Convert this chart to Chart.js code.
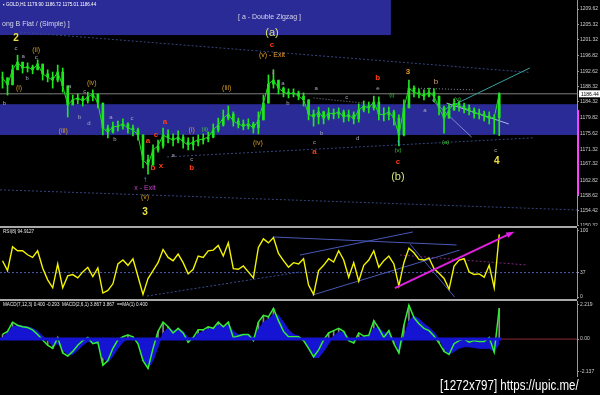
<!DOCTYPE html>
<html>
<head>
<meta charset="utf-8">
<script src="https://cdn.jsdelivr.net/npm/chart.js@4.4.1/dist/chart.umd.min.js"></script>
<style>
  html, body { margin: 0; padding: 0; background: #000; }
  #wrap { position: relative; width: 600px; height: 395px; background: #000; overflow: hidden;
          font-family: "Liberation Sans", Arial, sans-serif; }
  canvas { position: absolute; left: 0; }
  .sep { position: absolute; left: 0; width: 577px; height: 2px; background: #a9a9a9; }
  .txt { position: absolute; white-space: nowrap; line-height: 1; }
</style>
</head>
<body>
<div id="wrap">
  <canvas id="mainChart" width="600" height="226" style="top:0"></canvas>
  <div class="sep" style="top:226px"></div>
  <canvas id="rsiChart" width="600" height="71" style="top:228px"></canvas>
  <div class="sep" style="top:299px"></div>
  <canvas id="macdChart" width="600" height="76" style="top:301px"></canvas>

  <div class="txt" style="left:3px;top:3px;font-size:4.6px;color:#fff">&#9642; GOLD,H1 1179.90 1186.72 1175.01 1186.44</div>
  <div class="txt" style="left:238px;top:13px;font-size:7px;color:#d6d6e6">[ a - Double Zigzag ]</div>
  <div class="txt" style="left:2px;top:20px;font-size:7px;color:#d6d6e6">ong B Flat / (Simple) ]</div>
  <div class="txt" style="left:3px;top:230px;font-size:4.6px;color:#e8e8e8">RSI(8) 94.9127</div>
  <div class="txt" style="left:3px;top:303px;font-size:4.6px;color:#e8e8e8">MACD(7,12,3) 0.400 -0.293&nbsp;&nbsp;MACD(2,6,1) 3.867 3.867&nbsp;&nbsp;==MA(1) 0.400</div>
  <div class="txt" style="left:440px;top:377px;font-size:15px;color:#fff;transform:scaleX(0.77);transform-origin:left top">[1272x797] https://upic.me/</div>
</div>

<script>
// GOLD H1, one entry per bar
let closes = [1190.8,1188.9,1193.0,1195.1,1193.5,1193.8,1193.0,1194.6,1191.9,1191.0,
    1190.2,1192.4,1188.6,1183.4,1184.8,1185.3,1184.5,1185.6,1186.4,1183.9,
    1177.1,1176.0,1177.4,1177.6,1178.2,1177.1,1176.6,1175.2,1168.4,1167.0,
    1171.1,1172.2,1175.2,1174.4,1173.8,1174.6,1173.3,1172.5,1173.3,1173.8,
    1174.1,1174.6,1176.6,1177.9,1179.8,1180.9,1179.0,1178.2,1177.6,1178.2,
    1177.1,1179.3,1183.9,1189.1,1190.2,1188.0,1186.9,1186.4,1186.7,1185.8,
    1184.8,1180.9,1180.1,1181.5,1179.8,1181.2,1180.9,1181.5,1180.1,1180.7,
    1179.6,1182.0,1183.1,1182.6,1184.2,1180.9,1180.7,1181.5,1179.8,1175.2,
    1182.6,1188.0,1186.9,1186.4,1185.8,1186.9,1185.8,1182.6,1179.8,1182.0,
    1183.9,1183.1,1182.6,1182.0,1181.2,1180.9,1180.4,1179.8,1179.9,1186.44];
let highs = [1192.4,1190.8,1194.3,1197.0,1195.1,1194.9,1194.3,1195.7,1194.0,1193.0,
    1192.4,1194.3,1193.5,1188.6,1186.1,1186.4,1185.8,1186.9,1187.5,1185.8,
    1183.9,1177.9,1178.7,1179.0,1179.6,1178.5,1177.9,1177.1,1175.2,1169.7,
    1172.5,1173.8,1177.1,1176.6,1175.5,1176.3,1175.2,1174.4,1174.6,1175.2,
    1175.5,1176.0,1178.2,1179.8,1182.0,1183.1,1181.5,1179.8,1179.3,1179.6,
    1178.7,1181.5,1186.1,1191.6,1193.0,1189.7,1188.3,1187.8,1187.8,1187.2,
    1186.7,1184.8,1182.0,1182.8,1181.7,1182.6,1182.3,1182.6,1182.0,1182.0,
    1181.5,1183.7,1184.5,1184.2,1185.8,1185.6,1182.6,1182.8,1182.0,1180.7,
    1184.8,1190.2,1188.6,1187.8,1187.5,1188.0,1187.8,1185.8,1183.1,1183.7,
    1185.0,1184.5,1183.9,1183.4,1182.6,1182.3,1181.7,1181.5,1180.7,1186.72];
let lows = [1188.0,1186.1,1188.9,1193.0,1192.1,1192.4,1191.9,1193.0,1190.2,1189.7,
    1188.0,1189.7,1186.9,1180.1,1183.4,1183.7,1183.1,1183.9,1184.5,1182.6,
    1175.2,1174.4,1175.7,1176.3,1176.8,1175.7,1174.9,1173.8,1166.2,1164.5,
    1166.9,1170.5,1171.6,1173.0,1172.2,1173.0,1171.6,1171.1,1171.1,1172.2,
    1172.7,1173.3,1174.4,1176.0,1177.6,1179.3,1177.6,1177.1,1176.6,1176.8,
    1175.7,1175.5,1179.3,1183.9,1188.0,1186.4,1185.6,1185.3,1185.6,1184.8,
    1183.1,1179.3,1177.6,1178.2,1178.2,1179.3,1179.6,1179.8,1178.7,1179.0,
    1178.2,1178.7,1181.5,1181.2,1182.0,1179.3,1179.0,1179.3,1177.9,1172.2,
    1174.9,1182.6,1185.6,1185.3,1184.8,1185.6,1184.2,1180.7,1175.7,1179.8,
    1182.0,1181.7,1181.2,1180.7,1179.8,1179.6,1179.0,1178.2,1175.5,1175.01];

let rsiValues = [55,40,76,70,70,64,60,70,44,26,
    14,50,14,32,34,29,38,45,31,44,
    6,10,20,50,56,48,58,31,4,28,
    40,52,72,60,55,65,52,35,42,62,
    60,70,71,78,62,82,43,42,47,38,
    29,75,88,82,90,66,55,45,52,50,
    58,18,4,40,48,58,53,70,56,30,
    52,24,48,56,70,45,55,62,50,17,
    52,74,67,57,56,59,43,36,28,12,
    47,56,58,38,34,35,30,48,14,94.9];

let macdMain = [0.3,0.5,1.1,0.9,0.8,0.75,0.6,0.3,-0.06,-0.4,
    -0.6,0.1,-0.9,-1.1,-0.8,-0.4,-0.1,0.1,-0.3,-0.2,
    -1.7,-1.4,-0.6,-0.05,0.15,0.27,0.15,-0.3,-1.4,-1.9,
    -0.6,0.5,1.1,0.8,0.4,0.7,0.4,-0.2,0.1,0.6,
    0.6,0.8,0.7,1.1,0.8,1.1,0.1,0.2,0.3,0.3,
    -0.1,1.1,1.55,1.45,2.0,1.2,0.5,0.15,0.15,0.15,
    -0.1,-0.6,-1.15,-0.7,-0.05,0.4,0.55,0.7,0.5,-0.1,
    -0.25,0.4,0.2,0.25,1.2,0.7,0.1,0.55,-0.3,-0.9,
    0.9,2.2,1.4,1.0,0.7,0.55,0.2,-0.25,-0.8,-1.0,
    -0.3,-0.1,0.0,-0.2,-0.1,-0.15,-0.15,0.1,-0.85,2.0];
let macdSignal = [0.1,0.4,0.8,0.9,0.85,0.8,0.7,0.5,0.2,-0.1,
    -0.4,-0.3,-0.7,-1.0,-1.0,-0.7,-0.4,-0.15,-0.25,-0.3,
    -1.2,-1.5,-1.1,-0.6,-0.2,0.05,0.1,-0.2,-1.3,-1.9,
    -1.4,-0.5,0.4,0.7,0.55,0.6,0.5,0.1,0.05,0.35,
    0.5,0.65,0.7,0.9,0.85,0.95,0.5,0.3,0.3,0.3,
    0.1,0.6,1.1,1.3,1.6,1.55,1.1,0.6,0.3,0.2,
    -0.1,-0.6,-1.2,-1.2,-0.8,-0.3,0.2,0.45,0.45,0.1,
    -0.15,0.1,0.15,0.15,0.7,0.75,0.4,0.4,0.0,-0.7,
    0.1,1.2,1.5,1.3,1.0,0.75,0.45,0.0,-0.6,-1.0,
    -0.8,-0.6,-0.5,-0.5,-0.55,-0.6,-0.6,-0.6,-0.8,-0.29];

// axis labels as MT4 prints them
let priceTicks = [1209.62,1205.32,1201.32,1196.82,1192.62,1188.32,1184.32,1179.82,1175.62,1171.32,1167.32,1162.82,1158.62,1154.42,1150.32];
let rsiTicks = [100, 37, 0];
let macdTicks = [2.219, 0, -2.137];
let lastPrice = 1186.44;

// chart slots: bars plus the empty shift area on the right
let slots = Array.from({length: 115}, (_, i) => i);

// objects drawn on the chart: [fromBar, toBar, top, bottom, colour]
let priceBoxes = [
    [-0.5, 77.4, 1212.1, 1202.5, '#2b2b98'],
    [-0.5, 114.5, 1183.6, 1175.2, '#2b2b98']
];
// [bar1, value1, bar2, value2, colour, width, dash, arrow]
let priceLines = [
    [-0.5, lastPrice, 114.5, lastPrice, '#7e7e7e', 1, []],
    [3.5, 1203.3, 105, 1192.3, '#34467e', 1, [2, 2]],
    [-0.5, 1160.2, 114.5, 1154.7, '#34467e', 1, [2, 2]],
    [32.8, 1169.2, 105.7, 1174.4, '#34467e', 1, [2, 2]],
    [87.8, 1182.0, 105.1, 1193.5, '#3aa0a0', 1, []],
    [88.5, 1183.9, 100.9, 1178.2, '#a8b8e8', 1, []],
    [85.6, 1184.8, 93.5, 1174.6, '#7888d0', 1, []],
    [62, 1185.3, 72, 1183.9, '#8a8aa0', 1, [1, 2]],
    [82.2, 1188.0, 94.1, 1187.5, '#8a8aa0', 1, [1, 2]]
];
let rsiLines = [
    [-0.5, 37, 114.5, 37, '#4a5aa8', 1, [2, 2]],
    [53.9, 90.9, 90.5, 78.8, '#4858b8', 1, []],
    [59.3, 63.6, 81.8, 98.5, '#4858b8', 1, []],
    [61.8, 3, 91.1, 71, '#4858b8', 1, []],
    [81.2, 80.3, 90.1, 0, '#4858b8', 1, []],
    [79.2, 63.6, 104.5, 48.5, '#7a2a7a', 1, [2, 2]],
    [28.8, 1.5, 59.3, 37.9, '#3a4a90', 1, [2, 2]],
    [78.2, 13.6, 101.5, 97, '#e020e0', 2, [], true]
];
let macdLines = [
    [-0.5, 0, 99.5, 0, '#1414d2', 3, []],
    [99.5, 0, 114.5, 0, '#8a2a3a', 1, []]
];

let labelStyles = {
    num:    ['#e8e040', 'bold 10px "Liberation Sans"'],
    big:    ['#d4e07a', '11px "Liberation Sans"'],
    roman:  ['#d09a28', '7px "Liberation Sans"'],
    exit:   ['#e8a030', '7px "Liberation Sans"'],
    orange: ['#e09a20', 'bold 8px "Liberation Sans"'],
    red:    ['#ff3c14', 'bold 8px "Liberation Sans"'],
    tan:    ['#d8a070', '8px "Liberation Sans"'],
    grey:   ['#a8a8bc', '6px "Liberation Sans"'],
    green:  ['#3cc83c', '6px "Liberation Sans"'],
    purple: ['#c040c8', '7px "Liberation Sans"'],
    cyan:   ['#3ca0ff', 'bold 8px "Liberation Sans"'],
    pink:   ['#ff40ff', 'bold 9px "Liberation Sans"']
};
// wave labels: [text, bar, price, style]
let waveLabels = [
    ['2', 2.7, 1201.7, 'num'], ['c', 2.7, 1199.0, 'grey'], ['(ii)', 6.7, 1198.4, 'roman'],
    ['a', 4.1, 1196.8, 'grey'], ['c', 6.7, 1196.5, 'grey'], ['b', 4.9, 1190.8, 'grey'],
    ['(i)', 3.3, 1188.0, 'roman'], ['b', 0.4, 1183.9, 'grey'], ['(iv)', 17.8, 1189.4, 'roman'],
    ['a', 13.4, 1188.6, 'grey'], ['c', 16.4, 1187.2, 'grey'], ['(iii)', 12.1, 1176.3, 'roman'],
    ['b', 15.4, 1180.1, 'grey'], ['d', 17.2, 1178.5, 'grey'], ['a', 21.6, 1180.1, 'grey'],
    ['b', 22.4, 1174.1, 'grey'], ['c', 25.8, 1179.8, 'grey'], ['a', 32.4, 1178.7, 'red'],
    ['c', 30.6, 1175.2, 'red'], ['a', 29.0, 1173.5, 'red'], ['b', 30.0, 1166.2, 'red'],
    ['x', 31.6, 1166.7, 'red'], ['\u2191', 28.4, 1162.9, 'cyan'], ['x - Exit', 28.4, 1160.7, 'purple'],
    ['(v)', 28.4, 1158.2, 'roman'], ['3', 28.4, 1154.1, 'num'], ['a', 34.0, 1169.7, 'grey'],
    ['c', 37.7, 1168.4, 'grey'], ['b', 37.7, 1166.2, 'red'], ['(i)', 37.7, 1176.6, 'roman'],
    ['(ii)', 40.3, 1176.6, 'green'], ['(iii)', 44.7, 1188.0, 'roman'], ['(iv)', 50.9, 1173.0, 'roman'],
    ['(a)', 53.7, 1203.1, 'big'], ['c', 53.7, 1199.8, 'red'], ['(v) - Exit', 53.7, 1197.0, 'exit'],
    ['\u2193', 53.9, 1192.4, 'pink'], ['a', 55.9, 1189.4, 'grey'], ['b', 56.9, 1183.9, 'grey'],
    ['a', 62.5, 1187.8, 'grey'], ['c', 68.6, 1185.6, 'grey'], ['b', 74.8, 1190.8, 'red'],
    ['e', 74.8, 1187.8, 'grey'], ['(i)', 77.6, 1186.1, 'green'], ['3', 80.8, 1192.4, 'orange'],
    ['b', 86.4, 1189.7, 'tan'], ['(v)', 90.7, 1184.8, 'green'], ['a', 84.2, 1182.0, 'grey'],
    ['c', 62.2, 1173.3, 'grey'], ['b', 63.6, 1175.7, 'grey'], ['a', 62.2, 1170.5, 'red'],
    ['d', 70.8, 1174.4, 'grey'], ['(v)', 78.8, 1171.1, 'green'], ['\u2191', 78.8, 1173.0, 'cyan'],
    ['c', 78.8, 1167.8, 'red'], ['(b)', 78.8, 1163.7, 'big'], ['(a)', 88.3, 1173.3, 'green'],
    ['c', 98.3, 1171.1, 'grey'], ['4', 98.5, 1168.1, 'num']
];

Chart.defaults.font.family = '"Liberation Sans", Arial, sans-serif';

function drawSeg(ctx, xs, ys, l) {
    let x1 = xs.getPixelForValue(l[0]), y1 = ys.getPixelForValue(l[1]);
    let x2 = xs.getPixelForValue(l[2]), y2 = ys.getPixelForValue(l[3]);
    ctx.save();
    ctx.strokeStyle = l[4];
    ctx.lineWidth = l[5];
    ctx.setLineDash(l[6]);
    ctx.beginPath();
    ctx.moveTo(x1, y1);
    ctx.lineTo(x2, y2);
    ctx.stroke();
    if (l[7]) {
        let ang = Math.atan2(y2 - y1, x2 - x1);
        ctx.fillStyle = l[4];
        ctx.beginPath();
        ctx.moveTo(x2 + 3 * Math.cos(ang), y2 + 3 * Math.sin(ang));
        ctx.lineTo(x2 - 6 * Math.cos(ang - 0.5), y2 - 6 * Math.sin(ang - 0.5));
        ctx.lineTo(x2 - 6 * Math.cos(ang + 0.5), y2 - 6 * Math.sin(ang + 0.5));
        ctx.closePath();
        ctx.fill();
    }
    ctx.restore();
}

function makeOverlay(cfg) {
    return {
        id: 'overlay_' + cfg.name,
        beforeDatasetsDraw(chart) {
            let ctx = chart.ctx, xs = chart.scales.x, ys = chart.scales.y, a = chart.chartArea;
            ctx.save();
            ctx.beginPath();
            ctx.rect(a.left, a.top, a.right - a.left, a.bottom - a.top);
            ctx.clip();
            (cfg.boxes || []).forEach(b => {
                let x1 = xs.getPixelForValue(b[0]), x2 = xs.getPixelForValue(b[1]);
                let y1 = ys.getPixelForValue(b[2]), y2 = ys.getPixelForValue(b[3]);
                ctx.fillStyle = b[4];
                ctx.fillRect(x1, y1, x2 - x1, y2 - y1);
            });
            (cfg.lines || []).forEach(l => drawSeg(ctx, xs, ys, l));
            ctx.restore();
        },
        afterDatasetsDraw(chart) {
            let ctx = chart.ctx, xs = chart.scales.x, ys = chart.scales.y;
            (cfg.topLines || []).forEach(l => drawSeg(ctx, xs, ys, l));
            ctx.save();
            ctx.textAlign = 'center';
            ctx.textBaseline = 'middle';
            (cfg.labels || []).forEach(t => {
                let st = labelStyles[t[3]];
                ctx.fillStyle = st[0];
                ctx.font = st[1];
                ctx.fillText(t[0], xs.getPixelForValue(t[1]), ys.getPixelForValue(t[2]));
            });
            ctx.restore();
        },
        afterDraw(chart) {
            if (!cfg.priceTag) return;
            let ctx = chart.ctx, ys = chart.scales.y, a = chart.chartArea;
            ctx.save();
            // range marker on the price axis
            ctx.strokeStyle = '#ff40ff';
            ctx.lineWidth = 2;
            ctx.beginPath();
            ctx.moveTo(a.right + 1, ys.getPixelForValue(1182.0));
            ctx.lineTo(a.right + 1, ys.getPixelForValue(1158.8));
            ctx.stroke();
            let py = ys.getPixelForValue(cfg.priceTag);
            ctx.fillStyle = '#ffffff';
            ctx.fillRect(a.right + 2, py - 3.5, 21, 7);
            ctx.fillStyle = '#000';
            ctx.font = '5px "Liberation Sans"';
            ctx.textBaseline = 'middle';
            ctx.fillText(cfg.priceTag.toFixed(2), a.right + 4, py + 0.5);
            ctx.restore();
        }
    };
}

function rightAxis(min, max, tickVals, fmt) {
    return {
        position: 'right',
        min: min,
        max: max,
        afterBuildTicks: s => { s.ticks = tickVals.map(v => ({value: v})); },
        afterFit: s => { s.width = 23; s.paddingTop = 0; s.paddingBottom = 0; },
        ticks: {color: '#cfcfcf', font: {size: 5}, padding: 1, autoSkip: false, callback: fmt},
        grid: {drawOnChartArea: false, color: '#9a9a9a', tickLength: 2},
        border: {color: '#9a9a9a'}
    };
}

let baseOptions = (yAxis) => ({
    responsive: false,
    animation: false,
    devicePixelRatio: 1,
    layout: {padding: 0},
    plugins: {legend: {display: false}, tooltip: {enabled: false}},
    scales: {
        x: {type: 'category', display: false, offset: true},
        y: yAxis
    }
});

// price panel
new Chart(document.getElementById('mainChart'), {
    type: 'bar',
    data: {
        labels: slots,
        datasets: [
            {
                label: 'close',
                type: 'line',
                data: closes,
                borderColor: '#22dd22',
                borderWidth: 1,
                pointRadius: 0,
                order: 0
            },
            {
                label: 'body',
                data: closes.map((c, i) => [i ? closes[i - 1] : c, c]),
                backgroundColor: '#1ee81e',
                barThickness: 2,
                grouped: false,
                order: 1
            },
            {
                label: 'range',
                data: lows.map((l, i) => [l, highs[i]]),
                backgroundColor: '#1ee81e',
                barThickness: 1,
                grouped: false,
                order: 2
            }
        ]
    },
    options: baseOptions(rightAxis(1150.31, 1212.08, priceTicks, v => v.toFixed(2))),
    plugins: [makeOverlay({name: 'price', boxes: priceBoxes, lines: priceLines, labels: waveLabels, priceTag: lastPrice})]
});

// RSI(8)
new Chart(document.getElementById('rsiChart'), {
    type: 'line',
    data: {
        labels: slots,
        datasets: [{
            label: 'RSI(8)',
            data: rsiValues,
            borderColor: '#f4f400',
            borderWidth: 1.4,
            pointRadius: 0
        }]
    },
    options: baseOptions(rightAxis(-3, 104.5, rsiTicks, v => String(v))),
    plugins: [makeOverlay({name: 'rsi', lines: rsiLines.slice(0, 7), topLines: rsiLines.slice(7)})]
});

// MACD
new Chart(document.getElementById('macdChart'), {
    type: 'bar',
    data: {
        labels: slots,
        datasets: [
            {
                label: 'main',
                type: 'line',
                data: macdMain,
                borderColor: '#33ee33',
                borderWidth: 1.5,
                pointRadius: 0,
                order: 1
            },
            {
                label: 'signal',
                type: 'line',
                data: macdSignal,
                borderColor: '#1414d2',
                backgroundColor: '#1414d2',
                borderWidth: 1,
                pointRadius: 0,
                fill: 'origin',
                order: 2
            },
            {
                label: 'hist',
                data: macdMain,
                backgroundColor: '#8a8a8a',
                barThickness: 1,
                grouped: false,
                order: 3
            }
        ]
    },
    options: baseOptions(rightAxis(-2.464, 2.477, macdTicks, v => v === 0 ? '0.00' : v.toFixed(3))),
    plugins: [makeOverlay({name: 'macd', topLines: macdLines})]
});
</script>
</body>
</html>
